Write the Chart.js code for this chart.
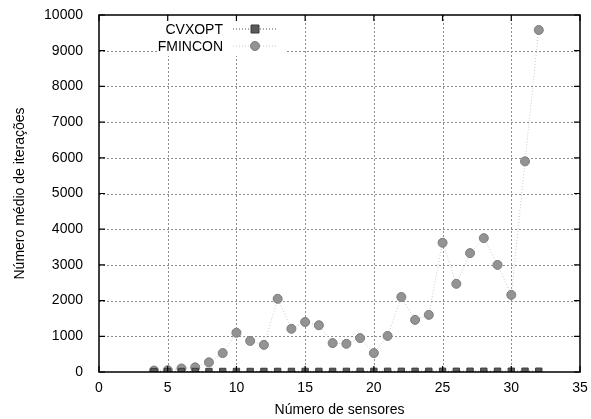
<!DOCTYPE html>
<html>
<head>
<meta charset="utf-8">
<script src="https://cdn.jsdelivr.net/npm/chart.js@4/dist/chart.umd.min.js"></script>
<style>
  html, body { margin: 0; padding: 0; background: #fff; }
  #wrap { width: 591px; height: 419px; }
</style>
</head>
<body>
<div id="wrap"><canvas id="iter-chart" width="591" height="419"></canvas></div>
<script>
// Average iteration counts per number of sensors
const sensores = [4, 5, 6, 7, 8, 9, 10, 11, 12, 13, 14, 15, 16, 17, 18, 19, 20, 21, 22, 23, 24, 25, 26, 27, 28, 29, 30, 31, 32];
const cvxopt = [12, 13, 13, 14, 14, 15, 15, 15, 16, 16, 16, 17, 17, 17, 18, 18, 18, 19, 19, 19, 20, 20, 20, 21, 21, 21, 22, 22, 22];
const fmincon = [40, 50, 100, 130, 270, 530, 1100, 870, 760, 2050, 1210, 1400, 1310, 810, 790, 950, 530, 1010, 2100, 1460, 1600, 3620, 2470, 3330, 3750, 3000, 2160, 5900, 9580];
const xTicks = [0, 5, 10, 15, 20, 25, 30, 35];
const yTicks = [0, 1000, 2000, 3000, 4000, 5000, 6000, 7000, 8000, 9000, 10000];

const FONT = '"Liberation Sans", Arial, sans-serif';

const toPoints = vals => sensores.map((s, i) => ({ x: s, y: vals[i] }));

// dotted grid, with the key area left blank
const gridPlugin = {
  id: 'dottedGrid',
  beforeDatasetsDraw(chart) {
    const { ctx, chartArea: a, scales } = chart;
    ctx.save();
    ctx.strokeStyle = '#8c8c8c';
    ctx.lineWidth = 1;
    ctx.setLineDash([2, 2]);
    ctx.beginPath();
    xTicks.slice(1, -1).forEach(v => {
      const px = Math.round(scales.x.getPixelForValue(v)) + 0.5;
      ctx.moveTo(px, a.top); ctx.lineTo(px, a.bottom);
    });
    yTicks.slice(1, -1).forEach(v => {
      const py = Math.round(scales.y.getPixelForValue(v)) + 0.5;
      ctx.moveTo(a.left, py); ctx.lineTo(a.right, py);
    });
    ctx.stroke();
    ctx.fillStyle = '#fff';
    ctx.fillRect(a.left + 58, a.top + 1, 130, 40);
    ctx.restore();
  }
};

// gnuplot-like frame, inward ticks and an in-plot key
const framePlugin = {
  id: 'frame',
  afterDraw(chart) {
    const { ctx, chartArea: a, scales } = chart;
    ctx.save();
    ctx.strokeStyle = '#000';
    ctx.lineWidth = 1.5;
    ctx.setLineDash([]);
    ctx.strokeRect(a.left, a.top, a.right - a.left, a.bottom - a.top);
    ctx.lineWidth = 1.2;
    ctx.beginPath();
    xTicks.forEach(v => {
      const px = scales.x.getPixelForValue(v);
      ctx.moveTo(px, a.bottom); ctx.lineTo(px, a.bottom - 6);
      ctx.moveTo(px, a.top); ctx.lineTo(px, a.top + 6);
    });
    yTicks.forEach(v => {
      const py = scales.y.getPixelForValue(v);
      ctx.moveTo(a.left, py); ctx.lineTo(a.left + 6, py);
      ctx.moveTo(a.right, py); ctx.lineTo(a.right - 6, py);
    });
    ctx.stroke();

    // key
    ctx.font = '14px ' + FONT;
    ctx.textAlign = 'right';
    ctx.textBaseline = 'middle';
    const rows = [
      { label: 'CVXOPT', y: a.top + 14, ds: chart.data.datasets[0] },
      { label: 'FMINCON', y: a.top + 31, ds: chart.data.datasets[1] }
    ];
    rows.forEach(r => {
      ctx.fillStyle = '#000';
      ctx.fillText(r.label, a.left + 124, r.y + 1);
      ctx.strokeStyle = r.ds.borderColor;
      ctx.lineWidth = 1;
      ctx.setLineDash([1, 2]);
      ctx.beginPath();
      ctx.moveTo(a.left + 134, r.y); ctx.lineTo(a.left + 178, r.y);
      ctx.stroke();
      ctx.setLineDash([]);
      ctx.fillStyle = r.ds.pointBackgroundColor;
      ctx.strokeStyle = r.ds.pointBorderColor;
      ctx.beginPath();
      const cx = a.left + 156;
      if (r.ds.pointStyle === 'rect') {
        ctx.rect(cx - 4, r.y - 4, 8, 8);
      } else {
        ctx.arc(cx, r.y, 4.5, 0, Math.PI * 2);
      }
      ctx.fill();
      ctx.stroke();
    });
    ctx.restore();
  }
};

new Chart(document.getElementById('iter-chart'), {
  type: 'scatter',
  data: {
    datasets: [
      {
        label: 'CVXOPT',
        data: toPoints(cvxopt),
        showLine: true,
        borderColor: '#555',
        borderWidth: 1,
        borderDash: [1, 2],
        pointStyle: 'rect',
        pointRadius: 4.5,
        pointBackgroundColor: '#5a5a5a',
        pointBorderColor: '#3a3a3a',
        pointBorderWidth: 1,
        order: 1
      },
      {
        label: 'FMINCON',
        data: toPoints(fmincon),
        showLine: true,
        borderColor: '#c8c8c8',
        borderWidth: 1,
        borderDash: [1, 2],
        pointStyle: 'circle',
        pointRadius: 4.5,
        pointBackgroundColor: '#939393',
        pointBorderColor: '#7c7c7c',
        pointBorderWidth: 1,
        order: 2
      }
    ]
  },
  options: {
    responsive: false,
    animation: false,
    layout: { padding: { top: 15, right: 11, left: 0, bottom: 0 } },
    plugins: {
      legend: { display: false },
      tooltip: { enabled: false }
    },
    scales: {
      x: {
        type: 'linear',
        min: 0,
        max: 35,
        afterBuildTicks: s => { s.ticks = xTicks.map(v => ({ value: v })); },
        afterFit: s => { s.height = 47; s.paddingRight = 0; s.paddingLeft = 0; },
        ticks: { color: '#000', font: { family: FONT, size: 14 }, padding: 0 },
        grid: { display: false },
        border: { display: false },
        title: {
          display: true,
          text: 'Número de sensores',
          color: '#000',
          font: { family: FONT, size: 14 },
          padding: { top: 3, bottom: 0 }
        }
      },
      y: {
        type: 'linear',
        min: 0,
        max: 10000,
        afterBuildTicks: s => { s.ticks = yTicks.map(v => ({ value: v })); },
        afterFit: s => { s.width = 99; s.paddingTop = 0; s.paddingBottom = 0; },
        ticks: {
          color: '#000',
          font: { family: FONT, size: 14 },
          padding: 8,
          callback: v => String(v)
        },
        grid: { display: false },
        border: { display: false },
        title: {
          display: true,
          text: 'Número médio de iterações',
          color: '#000',
          font: { family: FONT, size: 14 },
          padding: { top: 12, bottom: 0 }
        }
      }
    }
  },
  plugins: [gridPlugin, framePlugin]
});
</script>
</body>
</html>
